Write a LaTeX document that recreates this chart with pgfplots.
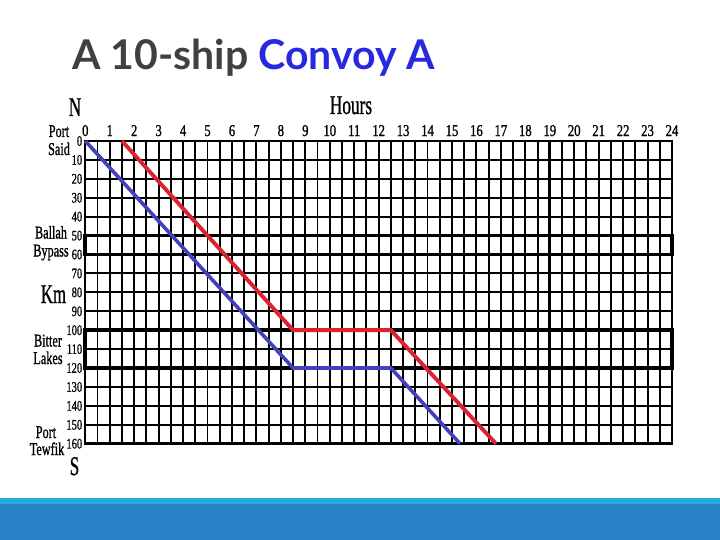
\documentclass[border=0pt]{standalone}
\usepackage{pgfplots}
\pgfplotsset{compat=1.18}
\usepackage{fontspec}
\setmainfont{Liberation Serif}
\newfontfamily\titlefont{Lato}
\newfontfamily\labfont[FakeBold=1.1]{Liberation Serif}

\definecolor{titlegray}{RGB}{64,64,64}
\definecolor{titleblue}{RGB}{40,40,225}
\definecolor{convoyred}{RGB}{218,35,45}
\definecolor{convoyblue}{RGB}{65,65,190}
\definecolor{barlight}{RGB}{35,170,225}
\definecolor{bardark}{RGB}{39,131,198}

\newcommand{\side}[1]{\labfont\fontsize{18}{18}\selectfont #1}
\newcommand{\biglab}[1]{\labfont\fontsize{27}{27}\selectfont #1}

\begin{document}
\begin{tikzpicture}[x=1pt,y=-1pt]
  % page frame 720 x 540
  \useasboundingbox (0,0) rectangle (720,540);
  \fill[white] (0,0) rectangle (720,540);

  % bottom band
  \fill[barlight] (0,497.5) rectangle (720,504);
  \fill[bardark] (0,504) rectangle (720,540);

  % title
  \node[anchor=base west, inner sep=0pt] at (72,70)
    {\titlefont\fontsize{41}{41}\selectfont\bfseries
     \textcolor{titlegray}{A 10-ship} \textcolor{titleblue}{Convoy A}};

  \begin{axis}[
    at={(85.3pt,-141pt)}, anchor=origin,
    scale only axis, width=586.7pt, height=302.7pt,
    xmin=0, xmax=24, ymin=0, ymax=160,
    y dir=reverse,
    xtick={0,...,24}, ytick={0,10,...,160},
    minor xtick={0.5,1.5,...,23.5},
    grid=both,
    major grid style={black, line width=1.9pt},
    minor grid style={black, line width=1.9pt},
    major tick length=0pt, minor tick length=0pt,
    axis line style={black, line width=2pt},
    xticklabel pos=upper,
    /pgf/number format/assume math mode=true,
    xticklabel style={font=\labfont\fontsize{16.5}{16.5}\selectfont,
      anchor=base, inner sep=0pt, yshift=5pt, xscale=0.77},
    yticklabel style={font=\labfont\fontsize{14.5}{14.5}\selectfont,
      anchor=east, inner sep=0pt, xshift=-3pt, xscale=0.72},
    clip=false,
  ]
    % heavy lines: Ballah Bypass, Bitter Lakes, hour 19, bottom edge
    \draw[line width=3.8pt] (axis cs:0,50) rectangle (axis cs:24,60);
    \draw[line width=3.8pt] (axis cs:0,100) rectangle (axis cs:24,120);
    \draw[line width=3.2pt] (axis cs:19,0) -- (axis cs:19,160);
    \draw[line width=3.2pt] (axis cs:0,160) -- (axis cs:24,160);

    \addplot[convoyblue, line width=3.6pt] coordinates {
      (0,0) (8.5,120) (12.5,120) (15.33,160)
    };
    \addplot[convoyred, line width=3.9pt] coordinates {
      (1.5,0) (8.5,100) (12.5,100) (16.8,160)
    };
  \end{axis}

  % side labels
  \node[anchor=base, inner sep=0pt, xscale=0.63] at (75,116) {\biglab{N}};
  \node[anchor=base, inner sep=0pt, xscale=0.64] at (351,114) {\biglab{Hours}};
  \node[anchor=base, inner sep=0pt, xscale=0.62] at (53.5,303) {\biglab{Km}};
  \node[anchor=base, inner sep=0pt, xscale=0.63] at (74.5,475) {\biglab{S}};

  \node[anchor=base, inner sep=0pt, xscale=0.68] at (59,137) {\side{Port}};
  \node[anchor=base, inner sep=0pt, xscale=0.68] at (59,155) {\side{Said}};
  \node[anchor=base, inner sep=0pt, xscale=0.68] at (51,238.5) {\side{Ballah}};
  \node[anchor=base, inner sep=0pt, xscale=0.68] at (51,256.5) {\side{Bypass}};
  \node[anchor=base, inner sep=0pt, xscale=0.68] at (48,346.5) {\side{Bitter}};
  \node[anchor=base, inner sep=0pt, xscale=0.68] at (48,364) {\side{Lakes}};
  \node[anchor=base, inner sep=0pt, xscale=0.68] at (46,438) {\side{Port}};
  \node[anchor=base, inner sep=0pt, xscale=0.68] at (47,455) {\side{Tewfik}};
\end{tikzpicture}
\end{document}
